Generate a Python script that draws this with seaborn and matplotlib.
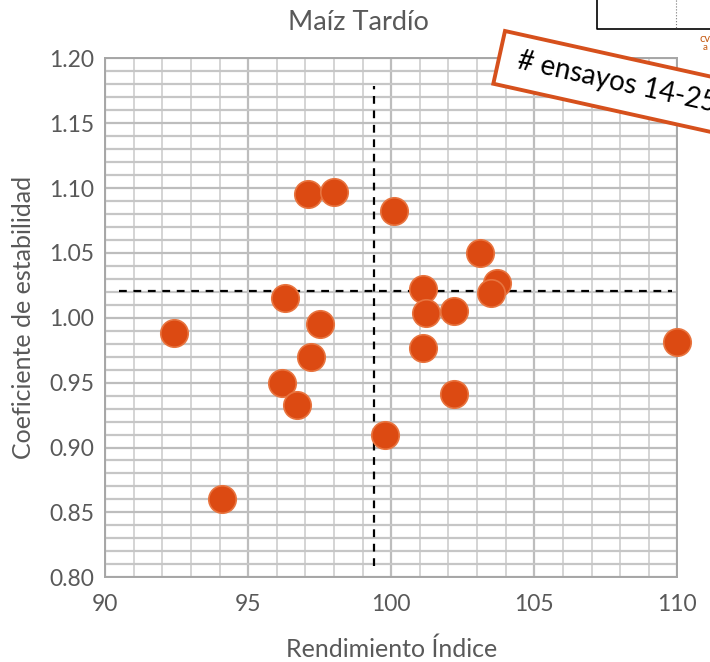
import numpy as np
import pandas as pd
import matplotlib
matplotlib.use("Agg")
import matplotlib.pyplot as plt
import seaborn as sns
from matplotlib.ticker import MultipleLocator
from matplotlib.patches import Polygon

# data
rendimiento = [92.4, 94.1, 97.1, 98.0, 100.1, 96.3, 97.5, 97.2, 96.2, 96.7,
               99.8, 101.1, 101.2, 101.1, 102.2, 102.2, 103.1, 103.7, 103.5, 110.0]
coeficiente = [0.988, 0.860, 1.095, 1.097, 1.082, 1.015, 0.995, 0.970, 0.950, 0.933,
               0.910, 1.022, 1.004, 0.977, 1.005, 0.941, 1.050, 1.027, 1.019, 0.981]
media_x = 99.4
media_y = 1.021
x_ticks = [90, 95, 100, 105, 110]
y_ticks = [0.80, 0.85, 0.90, 0.95, 1.00, 1.05, 1.10, 1.15, 1.20]

df = pd.DataFrame({"x": rendimiento, "y": coeficiente})

sns.set_style("white")
plt.rcParams['font.family'] = ['Lato', 'DejaVu Sans']

fig = plt.figure(figsize=(7.1, 6.62), dpi=100)
ax = fig.add_axes([0.148, 0.128, 0.806, 0.784])

gray = "#595959"

ax.set_xlim(90, 110)
ax.set_ylim(0.80, 1.20)
ax.set_xticks(x_ticks)
ax.set_yticks(y_ticks)
ax.set_yticklabels([f"{v:.2f}" for v in y_ticks])
ax.xaxis.set_minor_locator(MultipleLocator(1))
ax.yaxis.set_minor_locator(MultipleLocator(0.01))
ax.grid(True, which="major", color="#BDBDBD", linewidth=1.6)
ax.grid(True, which="minor", axis="y", color="#C6C6C6", linewidth=1.6)
ax.grid(True, which="minor", axis="x", color="#D4D4D4", linewidth=1.4)
ax.set_axisbelow(True)
ax.tick_params(axis="both", which="major", labelsize=16.5, colors="#A6A6A6",
               length=5, width=1.2, direction="out", labelcolor=gray, pad=3)
ax.tick_params(axis="x", which="major", pad=7)
ax.tick_params(axis="both", which="minor", length=0)
for s in ax.spines.values():
    s.set_color("#A6A6A6")
    s.set_linewidth(1.4)

# dashed mean lines
ax.plot([media_x, media_x], [0.809, 1.179], color="black", linestyle=(0, (3.5, 3)), linewidth=1.6, zorder=2)
ax.plot([90.5, 109.8], [media_y, media_y], color="black", linestyle=(0, (3.5, 3)), linewidth=1.6, zorder=2)

sns.scatterplot(data=df, x="x", y="y", ax=ax, s=390, color="#DC4A12",
                edgecolor="#E8743F", linewidth=1.2, zorder=3, clip_on=False)

ax.set_xlabel("Rendimiento Índice", fontsize=18, color=gray, labelpad=16)
ax.set_ylabel("Coeficiente de estabilidad", fontsize=18, color=gray, labelpad=10)

W, H = 710, 662
def fx(px):
    return px / W
def fy(py):
    return 1 - py / H

fig.text(fx(358), fy(22), "Maíz Tardío", fontsize=19.5, color=gray, ha="center", va="center")

# partial box at the top-right corner
fig.add_artist(plt.Line2D([fx(597), fx(597), fx(710)], [fy(0), fy(29), fy(29)],
                          transform=fig.transFigure, color="black", linewidth=1.2))
fig.add_artist(plt.Line2D([fx(676), fx(676)], [fy(0), fy(29)],
                          transform=fig.transFigure, color="#777777", linewidth=0.8, linestyle=":"))
fig.text(fx(699), fy(38), "cv", fontsize=8, color="#C55A11", va="center")
fig.text(fx(703), fy(47), "a", fontsize=7, color="#C55A11", va="center")

# rotated annotation box
ang = np.deg2rad(12.5)
ux, uy = np.cos(ang), np.sin(ang)
nx, ny = -np.sin(ang), np.cos(ang)
p0 = (505, 31)
L, Hb = 320, 54
corners = [
    (p0[0], p0[1]),
    (p0[0] + L * ux, p0[1] + L * uy),
    (p0[0] + L * ux + Hb * nx, p0[1] + L * uy + Hb * ny),
    (p0[0] + Hb * nx, p0[1] + Hb * ny),
]
poly = Polygon([(fx(a), fy(b)) for a, b in corners], closed=True,
               transform=fig.transFigure, facecolor="white", edgecolor="#D6501C",
               linewidth=2.8, zorder=10)
fig.add_artist(poly)
fig.text(fx(518), fy(60), "# ensayos 14-25", fontsize=20, color="black",
         rotation=-12.5, rotation_mode="anchor", ha="left", va="center", zorder=11)

fig.savefig("out.png", dpi=100)
